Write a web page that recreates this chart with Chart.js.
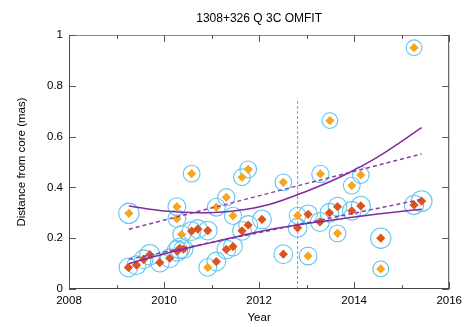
<!DOCTYPE html>
<html>
<head>
<meta charset="utf-8">
<script src="https://cdn.jsdelivr.net/npm/chart.js@4"></script>
<style>
  html, body { margin: 0; padding: 0; background: #fff; }
  #wrap { width: 467px; height: 327px; }
</style>
</head>
<body>
<div id="wrap"><canvas id="distChart" width="467" height="327"></canvas></div>
<script>
// outer component (yellow)
const outerYears = [2009.26, 2010.27, 2010.27, 2010.37, 2010.58, 2010.92, 2011.10, 2011.31, 2011.45, 2011.64, 2011.77,
  2012.51, 2012.81, 2013.03, 2013.29, 2013.49, 2013.65, 2013.95, 2014.14, 2014.56, 2015.26];
const outerDist = [0.298, 0.324, 0.277, 0.215, 0.454, 0.085, 0.322, 0.361, 0.288, 0.44, 0.471,
  0.42, 0.289, 0.13, 0.453, 0.663, 0.219, 0.407, 0.449, 0.079, 0.95];
// component size (mas), drawn as the blue rings
const outerSize = [0.040, 0.035, 0.035, 0.035, 0.033, 0.035, 0.035, 0.034, 0.034, 0.033, 0.033,
  0.033, 0.033, 0.035, 0.034, 0.031, 0.033, 0.033, 0.033, 0.031, 0.031];

// inner component (red)
const innerYears = [2009.25, 2009.42, 2009.57, 2009.70, 2009.91, 2010.12, 2010.28, 2010.33, 2010.41, 2010.58, 2010.71,
  2010.92, 2011.10, 2011.31, 2011.45, 2011.64, 2011.77, 2012.06, 2012.51, 2012.81, 2013.03, 2013.28,
  2013.48, 2013.65, 2013.95, 2014.14, 2014.56, 2015.26, 2015.42];
const innerDist = [0.085, 0.094, 0.117, 0.135, 0.104, 0.121, 0.150, 0.160, 0.157, 0.228, 0.236,
  0.230, 0.108, 0.156, 0.167, 0.229, 0.252, 0.274, 0.137, 0.241, 0.294, 0.264,
  0.300, 0.324, 0.308, 0.327, 0.200, 0.331, 0.346];
const innerSize = [0.037, 0.037, 0.037, 0.040, 0.037, 0.037, 0.040, 0.040, 0.037, 0.037, 0.037,
  0.037, 0.037, 0.037, 0.037, 0.037, 0.037, 0.037, 0.037, 0.037, 0.037, 0.037,
  0.037, 0.037, 0.037, 0.038, 0.040, 0.038, 0.041];

// fitted curves
const fitYears = [2009.26, 2010.0, 2010.75, 2011.5, 2012.25, 2013.0, 2013.75, 2014.5, 2015.42];
const outerCurve = [0.327, 0.307, 0.300, 0.308, 0.335, 0.385, 0.445, 0.52, 0.635];
const innerCurve = [0.100, 0.138, 0.172, 0.205, 0.235, 0.258, 0.277, 0.295, 0.314];
const linYears = [2009.26, 2015.42];
const outerLinear = [0.235, 0.532];
const innerLinear = [0.117, 0.353];

const markerYear = 2012.81;
const markerTop = 0.75;

const xTicks = [2008, 2009, 2010, 2011, 2012, 2013, 2014, 2015, 2016];
const yTicks = [0, 0.2, 0.4, 0.6, 0.8, 1];

const pts = (xs, ys) => xs.map((x, i) => ({ x: x, y: ys[i] }));

const YELLOW = "#f4a61e";
const RED = "#e0521b";
const RING = "#62c6ee";
const PURPLE = "#7f2c9e";
const FONT = "'Liberation Sans', Arial, sans-serif";

function ringRadius(sizes) {
  return function (ctx) {
    const y = ctx.chart.scales.y;
    let ppu = 254;
    if (y && y.height > 0) ppu = y.getPixelForValue(0) - y.getPixelForValue(1);
    return sizes[ctx.dataIndex] * ppu;
  };
}

// frame with inward ticks, gnuplot style
const framePlugin = {
  id: "frame",
  afterDatasetsDraw(chart) {
    const { ctx, chartArea: a, scales } = chart;
    ctx.save();
    ctx.lineWidth = 1;
    ctx.strokeStyle = "#444";
    ctx.beginPath();
    ctx.moveTo(a.left + 0.5, a.top);
    ctx.lineTo(a.left + 0.5, a.bottom - 0.5);
    ctx.lineTo(a.right - 0.5, a.bottom - 0.5);
    ctx.lineTo(a.right - 0.5, a.top);
    ctx.stroke();
    ctx.strokeStyle = "#888";
    ctx.beginPath();
    ctx.moveTo(a.left, a.top + 0.5);
    ctx.lineTo(a.right, a.top + 0.5);
    ctx.stroke();
    ctx.strokeStyle = "#555";
    ctx.beginPath();
    xTicks.forEach(function (v) {
      const px = Math.round(scales.x.getPixelForValue(v)) + 0.5;
      const len = v % 2 === 0 ? 7 : 4;
      ctx.moveTo(px, a.bottom);
      ctx.lineTo(px, a.bottom - len);
      ctx.moveTo(px, a.top);
      ctx.lineTo(px, a.top + len);
    });
    yTicks.forEach(function (v) {
      const py = Math.round(scales.y.getPixelForValue(v)) + 0.5;
      ctx.moveTo(a.left, py);
      ctx.lineTo(a.left + 7, py);
      ctx.moveTo(a.right, py);
      ctx.lineTo(a.right - 7, py);
    });
    ctx.stroke();
    ctx.restore();
  },
};

const chart = new Chart(document.getElementById("distChart"), {
  type: "scatter",
  data: {
    datasets: [
      {
        label: "marker",
        data: pts([markerYear, markerYear], [0, markerTop]),
        showLine: true,
        borderColor: "#2fb8f0",
        borderWidth: 1,
        borderDash: [3, 2],
        pointRadius: 0,
        order: 6,
      },
      {
        label: "outer rings",
        data: pts(outerYears, outerDist),
        pointStyle: "circle",
        radius: ringRadius(outerSize),
        borderColor: RING,
        borderWidth: 1.1,
        backgroundColor: "rgba(0,0,0,0)",
        order: 5,
      },
      {
        label: "inner rings",
        data: pts(innerYears, innerDist),
        pointStyle: "circle",
        radius: ringRadius(innerSize),
        borderColor: RING,
        borderWidth: 1.1,
        backgroundColor: "rgba(0,0,0,0)",
        order: 5,
      },
      {
        label: "outer",
        data: pts(outerYears, outerDist),
        pointStyle: "rectRot",
        pointRadius: 4.6,
        backgroundColor: YELLOW,
        borderColor: YELLOW,
        borderWidth: 0,
        order: 3,
      },
      {
        label: "inner",
        data: pts(innerYears, innerDist),
        pointStyle: "rectRot",
        pointRadius: 4.6,
        backgroundColor: RED,
        borderColor: RED,
        borderWidth: 0,
        order: 3,
      },
      {
        label: "outer fit",
        data: pts(fitYears, outerCurve),
        showLine: true,
        borderColor: PURPLE,
        borderWidth: 1.5,
        cubicInterpolationMode: "monotone",
        pointRadius: 0,
        order: 1,
      },
      {
        label: "inner fit",
        data: pts(fitYears, innerCurve),
        showLine: true,
        borderColor: PURPLE,
        borderWidth: 1.5,
        cubicInterpolationMode: "monotone",
        pointRadius: 0,
        order: 1,
      },
      {
        label: "outer linear",
        data: pts(linYears, outerLinear),
        showLine: true,
        borderColor: "#8a3dac",
        borderWidth: 1.5,
        borderDash: [4, 3],
        pointRadius: 0,
        order: 1,
      },
      {
        label: "inner linear",
        data: pts(linYears, innerLinear),
        showLine: true,
        borderColor: "#8a3dac",
        borderWidth: 1.5,
        borderDash: [4, 3],
        pointRadius: 0,
        order: 1,
      },
    ],
  },
  options: {
    responsive: false,
    animation: false,
    layout: { padding: { left: 0, right: 17, top: 0, bottom: 0 } },
    plugins: {
      legend: { display: false },
      tooltip: { enabled: false },
      title: {
        display: true,
        fullSize: false,
        text: "1308+326 Q 3C OMFIT",
        color: "#000",
        font: { family: FONT, size: 12, weight: "normal", lineHeight: 1.2 },
        padding: { top: 11, bottom: 9.6 },
      },
    },
    scales: {
      x: {
        type: "linear",
        min: 2008,
        max: 2016,
        afterBuildTicks: function (axis) {
          axis.ticks = xTicks.map((v) => ({ value: v }));
        },
        afterFit: function (axis) {
          axis.height = 38;
        },
        grid: { display: false, drawTicks: false },
        border: { display: false },
        ticks: {
          color: "#000",
          padding: 5,
          maxRotation: 0,
          autoSkip: false,
          font: { family: FONT, size: 11.5 },
          callback: (v) => (v % 2 === 0 ? String(v) : ""),
        },
        title: {
          display: true,
          text: "Year",
          color: "#000",
          font: { family: FONT, size: 11.5, lineHeight: 1.2 },
          padding: { top: 0, bottom: 2 },
        },
      },
      y: {
        min: 0,
        max: 1,
        afterBuildTicks: function (axis) {
          axis.ticks = yTicks.map((v) => ({ value: v }));
        },
        afterFit: function (axis) {
          axis.width = 69;
        },
        grid: { display: false, drawTicks: false },
        border: { display: false },
        ticks: {
          color: "#000",
          padding: 6,
          font: { family: FONT, size: 11.5 },
          callback: (v) => String(Math.round(v * 10) / 10),
        },
        title: {
          display: true,
          text: "Distance from core (mas)",
          color: "#000",
          font: { family: FONT, size: 11.5, lineHeight: 1.2 },
          padding: { top: 15, bottom: 0 },
        },
      },
    },
  },
  plugins: [framePlugin],
});
</script>
</body>
</html>
